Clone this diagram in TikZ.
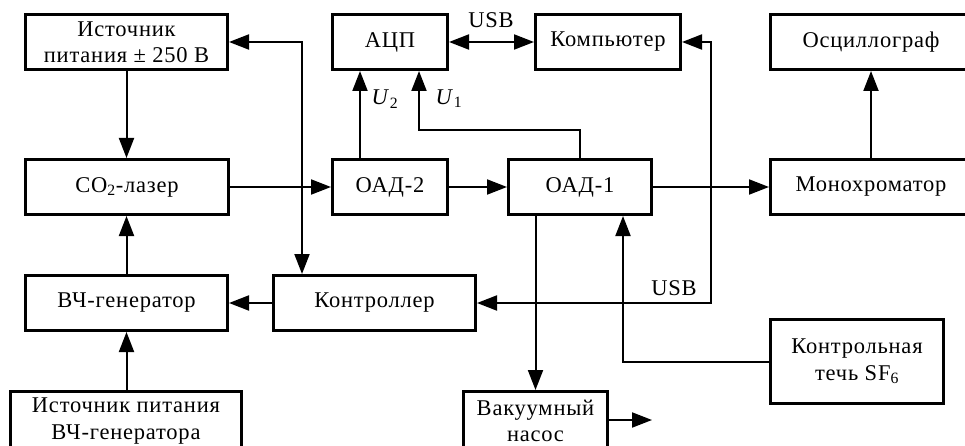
\documentclass[tikz,border=0pt]{standalone}
\usepackage{fontspec}
\setmainfont[LetterSpace=3.5]{Liberation Serif}
\usetikzlibrary{arrows.meta}
\begin{document}
\begin{tikzpicture}[x=1pt,y=-1pt,
  txt/.style={font=\fontsize{22.5}{26.5}\selectfont},
  box/.style={draw,line width=2.8pt,inner sep=0pt,align=center,minimum height=55.2pt,txt},
  conn/.style={line width=2pt},
  arr/.style={conn,-{Triangle[length=20pt,width=15pt]}},
  darr/.style={conn,{Triangle[length=20pt,width=15pt]}-{Triangle[length=20pt,width=15pt]}},
  lbl/.style={txt,inner sep=0pt}]
\useasboundingbox (0,0) rectangle (965,446);
\clip (0,0) rectangle (965,446);
% boxes
\node[box,minimum width=202.2pt] (src) at (126.5,42) {Источник\\питания ± 250 В};
\node[box,minimum width=115.2pt] (adc) at (390,42) {АЦП};
\node[box,minimum width=145.2pt] (pc) at (608,42) {Компьютер};
\node[box,minimum width=201.2pt] (osc) at (871,42) {Осциллограф};
\node[box,minimum width=203.2pt] (laser) at (127,187) {CO\textsubscript{2}-лазер};
\node[box,minimum width=115.2pt] (oad2) at (390,187) {ОАД-2};
\node[box,minimum width=143.2pt] (oad1) at (580,187) {ОАД-1};
\node[box,minimum width=201.2pt] (mono) at (871,187) {Монохроматор};
\node[box,minimum width=202.2pt] (hf) at (126.5,303) {ВЧ-генератор};
\node[box,minimum width=202.2pt] (ctrl) at (374.5,303) {Контроллер};
\node[box,minimum width=231.2pt,minimum height=59.2pt] (hfsrc) at (126,421) {Источник питания\\ВЧ-генератора};
\node[box,minimum width=144.2pt,minimum height=59.2pt] (vac) at (535.5,421) {Вакуумный\\насос};
\node[box,minimum width=173.2pt,minimum height=84.2pt] (leak) at (857,361.5) {Контрольная\\течь SF\textsubscript{6}};
% labels
\node[lbl] (usb1) at (491,20) {USB};
\node[lbl] (usb2) at (674,288) {USB};
\node[lbl] (u2) at (385,99) {\textit{U}\textsubscript{2}};
\node[lbl] (u1) at (449,99) {\textit{U}\textsubscript{1}};
% connectors
\draw[darr] (src.east) -| ([xshift=30pt]ctrl.north west);
\draw[arr] (src.south) -- (src.south |- laser.north);
\draw[arr] (laser.east) -- (oad2.west);
\draw[arr] ([xshift=-30pt]oad2.north) -- ([xshift=-30pt]adc.south);
\draw[arr] (oad1.north) -- ++(0,-28) -| ([xshift=29pt]adc.south);
\draw[darr] (adc.east) -- (pc.west);
\draw[arr] (oad2.east) -- (oad1.west);
\draw[arr] (oad1.east) -- (mono.west);
\draw[arr] (mono.north) -- (osc.south);
\draw[darr] (ctrl.east) -| ([xshift=29pt]pc.east) -- (pc.east);
\draw[arr] (vac.north |- oad1.south) -- (vac.north);
\draw[arr] (leak.west) -| ([xshift=43pt]oad1.south);
\coordinate (vacout) at (652,420);
\draw[arr] (vac.east |- vacout) -- (vacout);
\draw[arr] (hf.north) -- (hf.north |- laser.south);
\draw[arr] (ctrl.west) -- (hf.east);
\draw[arr] (hf.south |- hfsrc.north) -- (hf.south);
\end{tikzpicture}
\end{document}
